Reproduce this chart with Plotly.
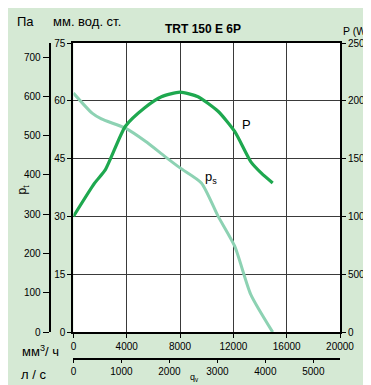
import plotly.graph_objects as go

# ---- data ----
# flow in m3/h
q_ps = [0, 1400, 2100, 3900, 5400, 6850, 8000, 9600, 10850, 12100, 13300, 14950]
ps_mm = [62.0, 56.8, 55.3, 52.9, 49.5, 45.6, 42.6, 38.7, 30.1, 22.3, 9.8, 0.0]

q_P = [0, 1600, 2400, 3900, 5350, 6600, 8000, 9350, 10850, 12100, 13300, 14100, 14950]
P_W = [1000, 1290, 1405, 1780, 1940, 2035, 2075, 2035, 1910, 1735, 1475, 1375, 1290]

x_ticks_m3h = [0, 4000, 8000, 12000, 16000, 20000]
x_ticks_ls = [0, 1000, 2000, 3000, 4000, 5000]
y_ticks_mm = [0, 15, 30, 45, 60, 75]
y_ticks_pa = [0, 100, 200, 300, 400, 500, 600, 700]
y_ticks_w = [0, 500, 1000, 1500, 2000, 2500]

# page body has an 8px margin, so the figure starts at (8, 8) of the window
OFF = 8
W, H = 371 - OFF, 385 - OFF
ML, MR, MT, MB = 0, 31, 35, 5
PW = W - ML - MR
PH = H - MT - MB


def px(xs):
    """screen x -> paper x"""
    return (xs - OFF - ML) / PW


def py(ys):
    """screen y -> paper y"""
    return (H - MB - (ys - OFF)) / PH


FONT = "Liberation Sans, Arial, sans-serif"
GREEN_BG = "#d5e9d4"
GRID = "#3a3a3a"

xdom = [px(71), 1]
ydom = [py(333), 1]

fig = go.Figure()
fig.add_trace(go.Scatter(x=q_ps, y=ps_mm, mode="lines",
                         line=dict(color="#8dd2b3", width=3, shape="spline", smoothing=0.6),
                         xaxis="x", yaxis="y", showlegend=False, hoverinfo="skip"))
fig.add_trace(go.Scatter(x=q_P, y=P_W, mode="lines",
                         line=dict(color="#1ea84f", width=3.2, shape="spline", smoothing=0.6),
                         xaxis="x", yaxis="y3", showlegend=False, hoverinfo="skip"))
# dummy traces so the extra axes are drawn
fig.add_trace(go.Scatter(x=[None], y=[None], xaxis="x", yaxis="y2", showlegend=False, hoverinfo="skip"))
fig.add_trace(go.Scatter(x=[None], y=[None], xaxis="x2", yaxis="y", showlegend=False, hoverinfo="skip"))

tickfont = dict(family=FONT, size=10, color="black")

fig.update_layout(
    width=W, height=H,
    margin=dict(l=ML, r=MR, t=MT, b=MB, pad=0),
    paper_bgcolor=GREEN_BG,
    plot_bgcolor="white",
    showlegend=False,
    xaxis=dict(domain=xdom, range=[0, 20000], tickvals=x_ticks_m3h, tickformat="d",
               showgrid=True, gridcolor=GRID, gridwidth=1,
               zeroline=False, showline=True, linecolor="black", linewidth=2, mirror=True,
               ticks="outside", ticklen=4, tickcolor="black", tickfont=tickfont, anchor="y"),
    xaxis2=dict(domain=xdom, range=[0, 20000 / 3.6], tickvals=x_ticks_ls, tickformat="d",
                overlaying="x", anchor="free",
                position=py(360), side="bottom", showgrid=False, zeroline=False, showline=True,
                linecolor="black", linewidth=2, ticks="outside", ticklen=3, tickcolor="black", tickfont=tickfont),
    yaxis=dict(domain=ydom, range=[0, 75], tickvals=y_ticks_mm, showgrid=True, gridcolor=GRID, gridwidth=1,
               zeroline=False, showline=True, linecolor="black", linewidth=2,
               ticks="outside", ticklen=4, tickcolor="black", tickfont=tickfont, anchor="x"),
    yaxis2=dict(range=[0, 75 * 9.81], tickvals=y_ticks_pa, tickformat="d", overlaying="y", anchor="free",
                position=px(47), side="left", showgrid=False, zeroline=False, showline=True,
                linecolor="black", linewidth=2,
                ticks="outside", ticklen=6, tickcolor="black", tickfont=tickfont),
    yaxis3=dict(range=[0, 2500], tickvals=y_ticks_w, tickformat="d", overlaying="y", anchor="x", side="right",
                showgrid=False, zeroline=False, showline=True, linecolor="black", linewidth=2,
                ticks="outside", ticklen=4, tickcolor="black", tickfont=tickfont),
)


def ann(text, x, y, size=11, bold=False, angle=0):
    if bold:
        text = "<b>" + text + "</b>"
    fig.add_annotation(text=text, x=px(x), y=py(y), xref="paper", yref="paper", showarrow=False,
                       font=dict(family=FONT, size=size, color="black"), textangle=angle,
                       xanchor="center", yanchor="middle")


ann("Па", 23, 21, size=13)
ann("мм. вод. ст.", 85, 21, size=13)
ann("TRT 150 E 6P", 202, 29, size=12, bold=True)
ann("P (W)", 357, 31, size=10.5)
ann("p<sub>t</sub>", 20, 190, size=12, angle=-90)
ann("мм<sup>3</sup>/ ч", 38, 352, size=13)
ann("л / с", 31, 375, size=13)
ann("q<sub>v</sub>", 193, 378, size=9)

# curve labels placed in data coordinates
fig.add_annotation(text="P", x=13000, y=53.8, xref="x", yref="y", showarrow=False,
                   font=dict(family=FONT, size=13, color="black"))
fig.add_annotation(text="p<sub>s</sub>", x=10300, y=40.0, xref="x", yref="y", showarrow=False,
                   font=dict(family=FONT, size=13, color="black"))

fig.write_html("out.html")
